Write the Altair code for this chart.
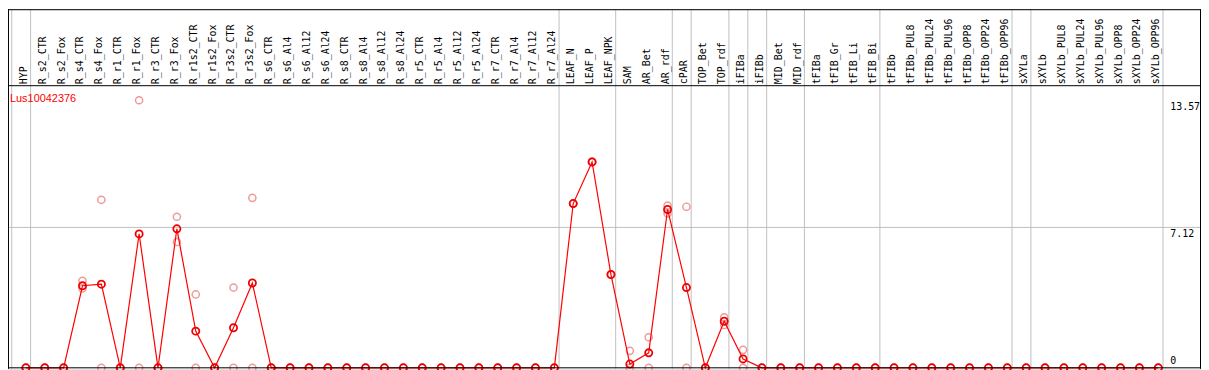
import altair as alt
import pandas as pd

# ---------------- data ----------------
categories = [
    "HYP", "R_s2_CTR", "R_s2_Fox", "R_s4_CTR", "R_s4_Fox", "R_r1_CTR", "R_r1_Fox",
    "R_r3_CTR", "R_r3_Fox", "R_r1s2_CTR", "R_r1s2_Fox", "R_r3s2_CTR", "R_r3s2_Fox",
    "R_s6_CTR", "R_s6_Al4", "R_s6_Al12", "R_s6_Al24", "R_s8_CTR", "R_s8_Al4",
    "R_s8_Al12", "R_s8_Al24", "R_r5_CTR", "R_r5_Al4", "R_r5_Al12", "R_r5_Al24",
    "R_r7_CTR", "R_r7_Al4", "R_r7_Al12", "R_r7_Al24", "LEAF_N", "LEAF_P", "LEAF_NPK",
    "SAM", "AR_Bet", "AR_rdf", "cPAR", "TOP_Bet", "TOP_rdf", "iFIBa", "iFIBb",
    "MID_Bet", "MID_rdf", "tFIBa", "tFIB_Gr", "tFIB_Li", "tFIB_Bi", "tFIBb",
    "tFIBb_PUL8", "tFIBb_PUL24", "tFIBb_PUL96", "tFIBb_OPP8", "tFIBb_OPP24",
    "tFIBb_OPP96", "sXYLa", "sXYLb", "sXYLb_PUL8", "sXYLb_PUL24", "sXYLb_PUL96",
    "sXYLb_OPP8", "sXYLb_OPP24", "sXYLb_OPP96",
]

mean_values = [
    0, 0, 0, 4.16, 4.24, 0, 6.79, 0, 7.05, 1.86, 0, 2.03, 4.30,
    0, 0, 0, 0, 0, 0, 0, 0, 0, 0, 0, 0, 0, 0, 0, 0,
    8.33, 10.44, 4.73, 0.19, 0.76, 8.03, 4.07, 0, 2.36, 0.45, 0,
    0, 0, 0, 0, 0, 0, 0, 0, 0, 0, 0, 0, 0, 0, 0, 0, 0, 0, 0, 0, 0,
]

rep1_values = [
    0, 0, 0, 4.41, 8.52, 0, 13.57, 0, 7.66, 3.72, 0, 4.07, 8.62,
    0, 0, 0, 0, 0, 0, 0, 0, 0, 0, 0, 0, 0, 0, 0, 0,
    8.33, 10.44, 4.73, 0.86, 1.55, 8.23, 8.17, 0, 2.56, 0.91, 0,
    0, 0, 0, 0, 0, 0, 0, 0, 0, 0, 0, 0, 0, 0, 0, 0, 0, 0, 0, 0, 0,
]

rep2_values = [
    0, 0, 0, 4.02, 0, 0, 0, 0, 6.38, 0, 0, 0, 0,
    0, 0, 0, 0, 0, 0, 0, 0, 0, 0, 0, 0, 0, 0, 0, 0,
    8.33, 10.44, 4.73, 0, 0, 7.83, 0, 0, 2.17, 0, 0,
    0, 0, 0, 0, 0, 0, 0, 0, 0, 0, 0, 0, 0, 0, 0, 0, 0, 0, 0, 0, 0,
]

group_ends = ["HYP", "R_r7_Al24", "LEAF_NPK", "AR_rdf", "cPAR", "TOP_rdf",
              "iFIBa", "iFIBb", "MID_rdf", "tFIB_Bi", "tFIBb_OPP96", "sXYLa",
              "sXYLb_OPP96"]

axis_ticks = [0, 7.12, 13.57]
axis_tick_labels = ["0", "7.12", "13.57"]
gene_name = "Lus10042376"

# ---------------- tables ----------------
idx = list(range(len(categories)))
df = pd.DataFrame({"idx": idx, "cat": categories, "mean": mean_values,
                   "rep1": rep1_values, "rep2": rep2_values})
reps = df.melt(id_vars=["idx"], value_vars=["rep1", "rep2"], value_name="val")
seps = pd.DataFrame({"gidx": [-1] + [categories.index(g) for g in group_ends]})
ticks = pd.DataFrame({"v": axis_ticks, "lab": axis_tick_labels})
title_df = pd.DataFrame({"t": [gene_name]})

# ---------------- geometry ----------------
W, H = 1201, 362
STEP = 19.0
PX_PER_UNIT = 19.85
x_scale = alt.Scale(domain=[-18 / STEP, (W - 18) / STEP], nice=False, zero=False)
y_scale = alt.Scale(domain=[-1 / PX_PER_UNIT, 361 / PX_PER_UNIT], nice=False, zero=False)
HEADER_Y = 77
GRID = "#c0c0c0"
MONO = "DejaVu Sans Mono"

base_x = alt.X("idx:Q", scale=x_scale, axis=None)

# vertical group separators
sep_layer = alt.Chart(seps).transform_calculate(
    pos="datum.gidx + 0.25"
).mark_rule(color=GRID, strokeWidth=1).encode(
    x=alt.X("pos:Q", scale=x_scale, axis=None),
    y=alt.value(0), y2=alt.value(H),
)

# horizontal grid at middle tick
grid_layer = alt.Chart(ticks).transform_filter(
    "datum.v > 0 && datum.v < 10"
).mark_rule(color=GRID, strokeWidth=1).encode(
    y=alt.Y("v:Q", scale=y_scale, axis=None),
    x=alt.value(0), x2=alt.value(W),
)

# zero baseline (black)
zero_layer = alt.Chart(ticks).transform_filter(
    "datum.v == 0"
).mark_rule(color="black", strokeWidth=1).encode(
    y=alt.Y("v:Q", scale=y_scale, axis=None),
    x=alt.value(0), x2=alt.value(W),
)

# frame lines
frame_top = alt.Chart(title_df).mark_rule(color="black", strokeWidth=1).encode(
    x=alt.value(0), x2=alt.value(W), y=alt.value(0.5))
frame_header = alt.Chart(title_df).mark_rule(color="black", strokeWidth=1).encode(
    x=alt.value(0), x2=alt.value(W), y=alt.value(HEADER_Y))
frame_left = alt.Chart(title_df).mark_rule(color="black", strokeWidth=1).encode(
    y=alt.value(0), y2=alt.value(H), x=alt.value(0.5))
frame_right = alt.Chart(title_df).mark_rule(color="black", strokeWidth=1).encode(
    y=alt.value(0), y2=alt.value(H), x=alt.value(W - 0.5))

# category labels in the header
label_layer = alt.Chart(df).mark_text(
    angle=270, align="left", baseline="alphabetic", dy=1,
    font=MONO, fontSize=10, color="black",
).encode(x=base_x, y=alt.value(HEADER_Y - 1.5), text="cat:N")

# gene title
title_layer = alt.Chart(title_df).mark_text(
    align="left", baseline="alphabetic", font="Liberation Sans",
    fontSize=11, color="#ff0000",
).encode(x=alt.value(2), y=alt.value(93), text="t:N")

# right-hand value labels
tick_text = alt.Chart(ticks).transform_filter("datum.v > 0").mark_text(
    align="left", baseline="top", dy=2, font=MONO, fontSize=10, color="black",
).encode(x=alt.value(1170), y=alt.Y("v:Q", scale=y_scale, axis=None), text="lab:N")
tick_zero = alt.Chart(ticks).transform_filter("datum.v == 0").mark_text(
    align="left", baseline="alphabetic", dy=-4, font=MONO, fontSize=10, color="black",
).encode(x=alt.value(1170), y=alt.Y("v:Q", scale=y_scale, axis=None), text="lab:N")

# replicates
rep_layer = alt.Chart(reps).mark_point(
    shape="circle", filled=False, size=52, strokeWidth=1.5,
    color="#ee9a9a", opacity=1,
).encode(x=base_x, y=alt.Y("val:Q", scale=y_scale, axis=None))

# mean line and points
line_layer = alt.Chart(df).mark_line(color="#ff0000", strokeWidth=1.2).encode(
    x=base_x, y=alt.Y("mean:Q", scale=y_scale, axis=None), order="idx:Q")
mean_layer = alt.Chart(df).mark_point(
    shape="circle", filled=False, size=52, strokeWidth=1.8,
    color="#ee0000", opacity=1,
).encode(x=base_x, y=alt.Y("mean:Q", scale=y_scale, axis=None))

chart = alt.layer(
    sep_layer, grid_layer, frame_top, frame_header, frame_left, frame_right,
    label_layer, title_layer, tick_text, tick_zero,
    rep_layer, line_layer, mean_layer, zero_layer,
).properties(
    width=W, height=H, padding=0,
    autosize=alt.AutoSizeParams(type="none"),
).configure_view(strokeWidth=0).configure(background="white")

chart.save("out.html", embed_options={"renderer": "svg", "actions": False})
